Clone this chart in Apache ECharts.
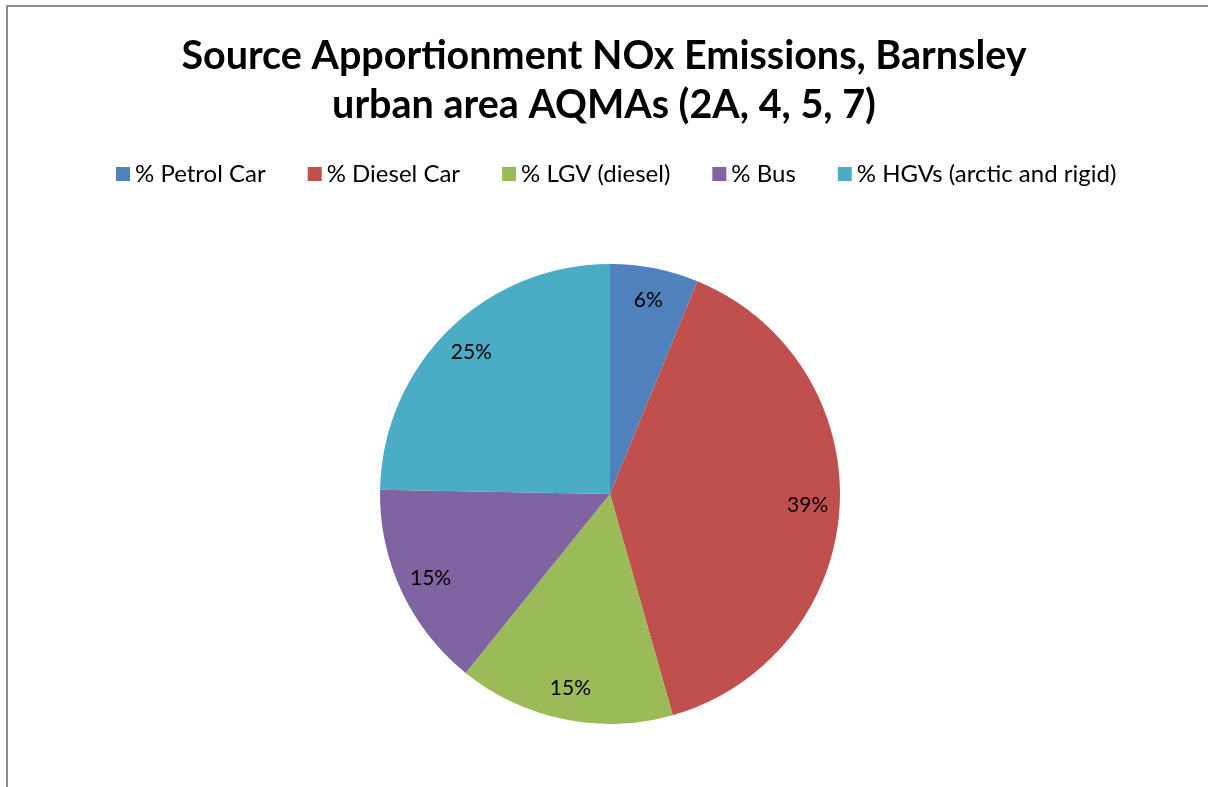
<!DOCTYPE html>
<html>
<head>
<meta charset="utf-8">
<script src="https://cdn.jsdelivr.net/npm/echarts@6/dist/echarts.min.js"></script>
<style>
  html, body { margin: 0; padding: 0; background: #fff; overflow: hidden; }
  .frame {
    position: absolute;
    left: 6px;
    top: 5px;
    width: 1240px;
    height: 820px;
    border: 2px solid #8e8e8e;
    background: #fff;
  }
  #chart { position: absolute; left: 0; top: 0; width: 1208px; height: 787px; }
</style>
</head>
<body>
<div class="frame"></div>
<div id="chart"></div>
<script>
// source shares
const categories = ['% Petrol Car', '% Diesel Car', '% LGV (diesel)', '% Bus', '% HGVs (arctic and rigid)']
const shares = [6.2, 39.4, 15.2, 14.5, 24.7]
const colors = ['#4F81BD', '#C0504D', '#9BBB59', '#8064A2', '#4BACC6']

const pieData = categories.map((name, i) => ({ name: name, value: shares[i] }))

const chart = echarts.init(document.getElementById('chart'))
chart.setOption({
  color: colors,
  title: {
    text: 'Source Apportionment NOx Emissions, Barnsley\nurban area AQMAs (2A, 4, 5, 7)',
    left: 'center',
    top: 27,
    textStyle: {
      fontFamily: 'Lato',
      fontWeight: 'bold',
      fontSize: 39.5,
      lineHeight: 49,
      color: '#000'
    }
  },
  legend: {
    top: 157,
    left: 111,
    itemWidth: 14,
    itemHeight: 14,
    itemGap: 42,
    icon: 'rect',
    textStyle: { fontFamily: 'Lato', fontSize: 24, color: '#000' },
    data: categories
  },
  series: [
    {
      type: 'pie',
      center: [610, 494],
      radius: [0, 230],
      startAngle: 90,
      clockwise: true,
      silent: true,
      label: { show: false },
      labelLine: { show: false },
      data: pieData
    },
    {
      // transparent ring so the labels sit near the rim like the original
      type: 'pie',
      center: [610, 494],
      radius: [160, 230],
      startAngle: 90,
      clockwise: true,
      silent: true,
      legendHoverLink: false,
      itemStyle: { color: 'transparent', borderWidth: 0 },
      label: {
        show: true,
        position: 'inside',
        fontFamily: 'Lato',
        fontSize: 21,
        color: '#000',
        formatter: p => Math.round(p.value) + '%'
      },
      labelLine: { show: false },
      data: pieData
    }
  ]
})
</script>
</body>
</html>
